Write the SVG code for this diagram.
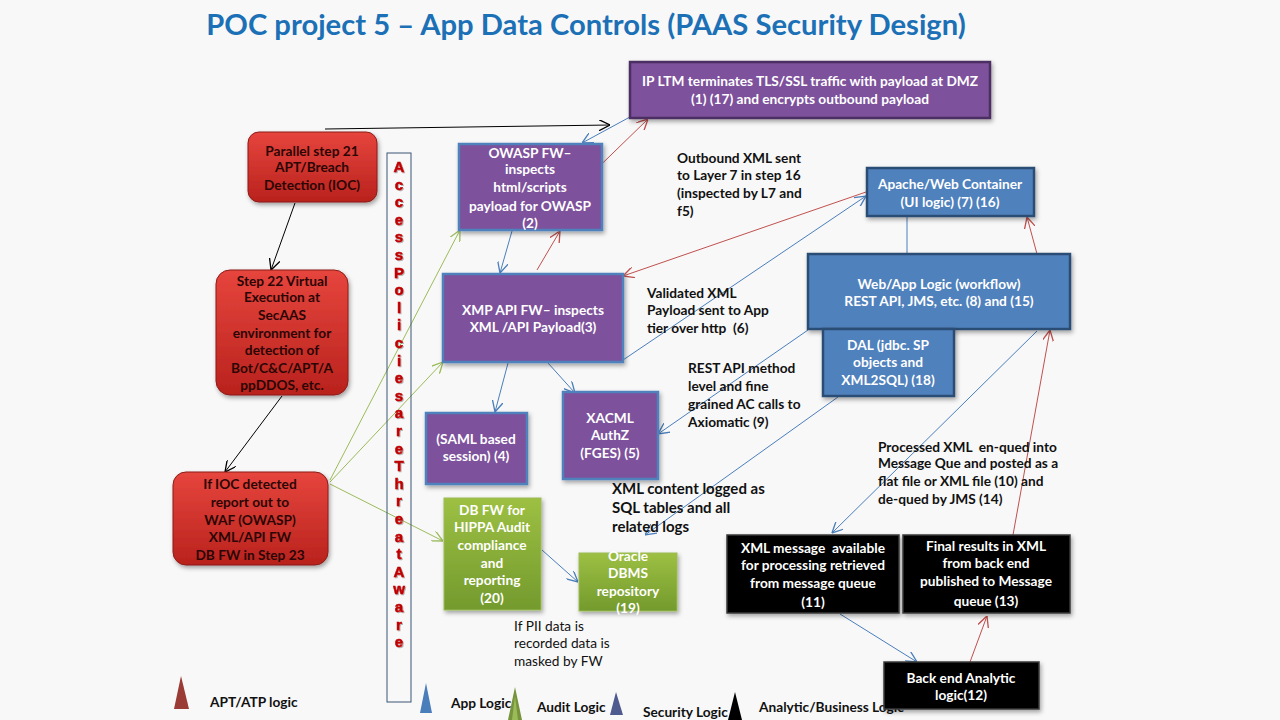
<svg xmlns="http://www.w3.org/2000/svg" width="1280" height="720" viewBox="0 0 1280 720">
<defs>
<style>
text{white-space:pre;}
.t{font-family:Lato,"Liberation Sans",sans-serif;font-weight:bold;font-size:13.7px;}
.big{font-size:15px;}
.w{fill:#ffffff;text-anchor:middle;}
.dr{fill:#2b0606;text-anchor:middle;}
.lb{fill:#111111;}
.reg{font-family:Lato,"Liberation Sans",sans-serif;font-size:13.7px;fill:#111;}
.purp{fill:#7d519c;stroke:#4f81bd;stroke-width:2.5;}
.blue{fill:#4f81bd;stroke:#2c4d75;stroke-width:2.5;}
.blk{fill:#050505;stroke:#3a3a3a;stroke-width:1.5;}
.red{fill:url(#gRed);stroke:#8c1c18;stroke-width:1;}
.grn{fill:url(#gGrn);stroke:#9bbb59;stroke-width:1;}
.vl{font-family:"Liberation Sans",Arial,sans-serif;font-weight:bold;font-size:15px;fill:#c00000;stroke:#c00000;stroke-width:0.5;text-anchor:middle;}
.cb{stroke:#4a7ebb;stroke-width:1;fill:none;marker-end:url(#aB);}
.cr{stroke:#c0504d;stroke-width:1;fill:none;marker-end:url(#aR);}
.cg{stroke:#9bbb59;stroke-width:1;fill:none;marker-end:url(#aG);}
.ck{stroke:#000;stroke-width:1;fill:none;marker-end:url(#aK);}
</style>
<linearGradient id="gRed" x1="0" y1="0" x2="0" y2="1"><stop offset="0" stop-color="#e6453d"/><stop offset="1" stop-color="#b9221d"/></linearGradient>
<linearGradient id="gGrn" x1="0" y1="0" x2="0" y2="1"><stop offset="0" stop-color="#9dc043"/><stop offset="1" stop-color="#739a2d"/></linearGradient>
<filter id="sh" x="-10%" y="-10%" width="125%" height="130%"><feDropShadow dx="1.5" dy="2.5" stdDeviation="2" flood-color="#000" flood-opacity="0.35"/></filter>
<filter id="tsh" x="-20%" y="-20%" width="150%" height="150%"><feDropShadow dx="1" dy="1" stdDeviation="0.6" flood-color="#000" flood-opacity="0.3"/></filter>
<marker id="aB" viewBox="0 0 10 10" refX="10" refY="5" markerWidth="11" markerHeight="11" markerUnits="userSpaceOnUse" orient="auto"><path d="M0,0 L10,5 L0,10" fill="none" stroke="#4a7ebb" stroke-width="1.2"/></marker>
<marker id="aR" viewBox="0 0 10 10" refX="10" refY="5" markerWidth="11" markerHeight="11" markerUnits="userSpaceOnUse" orient="auto"><path d="M0,0 L10,5 L0,10" fill="none" stroke="#c0504d" stroke-width="1.2"/></marker>
<marker id="aG" viewBox="0 0 10 10" refX="10" refY="5" markerWidth="11" markerHeight="11" markerUnits="userSpaceOnUse" orient="auto"><path d="M0,0 L10,5 L0,10" fill="none" stroke="#9bbb59" stroke-width="1.2"/></marker>
<marker id="aK" viewBox="0 0 10 10" refX="10" refY="5" markerWidth="11" markerHeight="11" markerUnits="userSpaceOnUse" orient="auto"><path d="M0,0 L10,5 L0,10" fill="none" stroke="#000" stroke-width="1.2"/></marker>
</defs>
<rect x="0" y="0" width="1280" height="720" fill="#f8f8f8"/>
<text x="586" y="35" font-family="Lato,'Liberation Sans',sans-serif" font-weight="bold" font-size="29.2" fill="#1b70b6" text-anchor="middle">POC project 5 – App Data Controls (PAAS Security Design)</text>

<g id="connectors">
<line class="ck" x1="325" y1="129" x2="610" y2="125"/>
<line class="ck" x1="295" y1="203" x2="271" y2="270"/>
<line class="ck" x1="282" y1="396" x2="225" y2="472"/>
<line class="cg" x1="330" y1="480" x2="460" y2="230"/>
<line class="cg" x1="330" y1="482" x2="443" y2="362"/>
<line class="cg" x1="330" y1="484" x2="443" y2="541"/>
<line class="cb" x1="641" y1="111" x2="582" y2="143"/>
<line class="cb" x1="512" y1="231" x2="500" y2="273"/>
<line class="cb" x1="508" y1="363" x2="495" y2="412"/>
<line class="cb" x1="548" y1="363" x2="575" y2="393"/>
<line class="cb" x1="623" y1="360" x2="866" y2="196"/>
<line class="cb" x1="808" y1="330" x2="658" y2="434"/>
<line class="cb" x1="838" y1="397" x2="645" y2="535"/>
<line class="cb" x1="1037" y1="331" x2="832" y2="533"/>
<line class="cb" x1="840" y1="614" x2="917" y2="662"/>
<line class="cb" x1="542" y1="550" x2="578" y2="582"/>
<line x1="907" y1="216" x2="907" y2="254" stroke="#4a7ebb" stroke-width="1"/>
<line class="cr" x1="578" y1="187" x2="648" y2="119"/>
<line class="cr" x1="537" y1="270" x2="560" y2="231"/>
<line class="cr" x1="866" y1="192" x2="623" y2="276"/>
<line class="cr" x1="1037" y1="254" x2="1027" y2="217"/>
<line class="cr" x1="1013" y1="535" x2="1050" y2="330"/>
<line class="cr" x1="970" y1="662" x2="987" y2="616"/>
</g>

<g id="ipltm">
<rect x="630" y="62" width="360" height="56" fill="#7d519c" stroke="#4b2e62" stroke-width="2.5" filter="url(#sh)"/>
<text class="t w" x="810" y="86">IP LTM terminates TLS/SSL traffic with payload at DMZ</text>
<text class="t w" x="810" y="104">(1) (17) and encrypts outbound payload</text>
</g>

<g id="parallel21">
<rect class="red" x="248" y="132" width="129" height="70" rx="11" filter="url(#sh)"/>
<text class="t dr" x="312" y="156">Parallel step 21</text>
<text class="t dr" x="312" y="172">APT/Breach</text>
<text class="t dr" x="312" y="190">Detection (IOC)</text>
</g>

<g id="step22">
<rect class="red" x="216" y="270" width="132" height="125" rx="14" filter="url(#sh)"/>
<text class="t dr" x="282" y="286">Step 22 Virtual</text>
<text class="t dr" x="282" y="302">Execution at</text>
<text class="t dr" x="282" y="320">SecAAS</text>
<text class="t dr" x="282" y="338">environment for</text>
<text class="t dr" x="282" y="355">detection of</text>
<text class="t dr" x="282" y="373">Bot/C&amp;C/APT/A</text>
<text class="t dr" x="282" y="390">ppDDOS, etc.</text>
</g>

<g id="ioc">
<rect class="red" x="173" y="472" width="155" height="93" rx="13" filter="url(#sh)"/>
<text class="t dr" x="250" y="489">If IOC detected</text>
<text class="t dr" x="250" y="507">report out to</text>
<text class="t dr" x="250" y="525">WAF (OWASP)</text>
<text class="t dr" x="250" y="542">XML/API FW</text>
<text class="t dr" x="250" y="560">DB FW in Step 23</text>
</g>

<g id="access-policies">
<rect x="387" y="153" width="24" height="549" fill="none" stroke="#3a5572" stroke-width="1"/>
<g filter="url(#tsh)">
<text class="vl" x="399" y="172">A</text><text class="vl" x="399" y="189.6">c</text><text class="vl" x="399" y="207.2">c</text><text class="vl" x="399" y="224.8">e</text><text class="vl" x="399" y="242.4">s</text><text class="vl" x="399" y="260">s</text><text class="vl" x="399" y="277.6">P</text><text class="vl" x="399" y="295.2">o</text><text class="vl" x="399" y="312.8">l</text><text class="vl" x="399" y="330.4">i</text><text class="vl" x="399" y="348">c</text><text class="vl" x="399" y="365.6">i</text><text class="vl" x="399" y="383.2">e</text><text class="vl" x="399" y="400.8">s</text><text class="vl" x="399" y="418.4">a</text><text class="vl" x="399" y="436">r</text><text class="vl" x="399" y="453.6">e</text><text class="vl" x="399" y="471.2">T</text><text class="vl" x="399" y="488.8">h</text><text class="vl" x="399" y="506.4">r</text><text class="vl" x="399" y="524">e</text><text class="vl" x="399" y="541.6">a</text><text class="vl" x="399" y="559.2">t</text><text class="vl" x="399" y="576.8">A</text><text class="vl" x="399" y="594.4">w</text><text class="vl" x="399" y="612">a</text><text class="vl" x="399" y="629.6">r</text><text class="vl" x="399" y="647.2">e</text>
</g>
</g>

<g id="owasp">
<rect class="purp" x="459" y="144" width="143" height="86" filter="url(#sh)"/>
<text class="t w" x="530" y="158">OWASP FW–</text>
<text class="t w" x="530" y="174">inspects</text>
<text class="t w" x="530" y="192">html/scripts</text>
<text class="t w" x="530" y="211">payload for OWASP</text>
<text class="t w" x="530" y="228">(2)</text>
</g>

<g id="xmp">
<rect class="purp" x="443" y="274" width="180" height="88" filter="url(#sh)"/>
<text class="t w" x="533" y="315">XMP API FW– inspects</text>
<text class="t w" x="533" y="332">XML /API Payload(3)</text>
</g>

<g id="saml">
<rect class="purp" x="426" y="413" width="101" height="71" filter="url(#sh)"/>
<text class="t w" x="476" y="444">(SAML based</text>
<text class="t w" x="476" y="461">session) (4)</text>
</g>

<g id="xacml">
<rect class="purp" x="563" y="392" width="95" height="87" filter="url(#sh)"/>
<text class="t w" x="610" y="423">XACML</text>
<text class="t w" x="610" y="440">AuthZ</text>
<text class="t w" x="610" y="458">(FGES) (5)</text>
</g>

<g id="dbfw">
<rect class="grn" x="444" y="498" width="97" height="112" filter="url(#sh)"/>
<text class="t w" x="492" y="515">DB FW for</text>
<text class="t w" x="492" y="532">HIPPA Audit</text>
<text class="t w" x="492" y="550">compliance</text>
<text class="t w" x="492" y="568">and</text>
<text class="t w" x="492" y="585">reporting</text>
<text class="t w" x="492" y="603">(20)</text>
</g>

<g id="oracle">
<rect class="grn" x="579" y="553" width="98" height="58" filter="url(#sh)"/>
<text class="t w" x="628" y="561">Oracle</text>
<text class="t w" x="628" y="578">DBMS</text>
<text class="t w" x="628" y="596">repository</text>
<text class="t w" x="628" y="613">(19)</text>
</g>

<g id="apache">
<rect class="blue" x="867" y="168" width="167" height="48" filter="url(#sh)"/>
<text class="t w" x="950" y="189">Apache/Web Container</text>
<text class="t w" x="950" y="207">(UI logic) (7) (16)</text>
</g>

<g id="webapp">
<rect class="blue" x="808" y="254" width="262" height="75" filter="url(#sh)"/>
<text class="t w" x="939" y="289">Web/App Logic (workflow)</text>
<text class="t w" x="939" y="306">REST API, JMS, etc. (8) and (15)</text>
</g>

<g id="dal">
<rect class="blue" x="823" y="329" width="131" height="67" filter="url(#sh)"/>
<text class="t w" x="888" y="350">DAL (jdbc. SP</text>
<text class="t w" x="888" y="367">objects and</text>
<text class="t w" x="888" y="385">XML2SQL) (18)</text>
</g>

<g id="labels">
<text class="t lb" x="677" y="163">Outbound XML sent</text>
<text class="t lb" x="677" y="180">to Layer 7 in step 16</text>
<text class="t lb" x="677" y="198">(inspected by L7 and</text>
<text class="t lb" x="677" y="216">f5)</text>
<text class="t lb" x="647" y="298">Validated XML</text>
<text class="t lb" x="647" y="315">Payload sent to App</text>
<text class="t lb" x="647" y="333">tier over http  (6)</text>
<text class="t lb" x="688" y="373">REST API method</text>
<text class="t lb" x="688" y="391">level and fine</text>
<text class="t lb" x="688" y="409">grained AC calls to</text>
<text class="t lb" x="688" y="427">Axiomatic (9)</text>
<text class="t lb big" x="612" y="494">XML content logged as</text>
<text class="t lb big" x="612" y="513">SQL tables and all</text>
<text class="t lb big" x="612" y="532">related logs</text>
<text class="t lb" x="878" y="452">Processed XML  en-qued into</text>
<text class="t lb" x="878" y="468">Message Que and posted as a</text>
<text class="t lb" x="878" y="486">flat file or XML file (10) and</text>
<text class="t lb" x="878" y="504">de-qued by JMS (14)</text>
<text class="reg" x="514" y="631">If PII data is</text>
<text class="reg" x="514" y="648">recorded data is</text>
<text class="reg" x="514" y="666">masked by FW</text>
</g>

<g id="legend">
<polygon points="181,676 174,709 189,709" fill="#9a3b36"/>
<text class="t lb" x="210" y="707">APT/ATP logic</text>
<polygon points="426,683 420,713 432,713" fill="#4a7ebb"/>
<text class="t lb" x="451" y="708">App Logic</text>
<polygon points="515,687 508,720 522,720" fill="#77933c"/>
<polygon points="515,696 512,720 518,720" fill="#9bbb59"/>
<text class="t lb" x="537" y="712">Audit Logic</text>
<polygon points="616,692 610,715 623,715" fill="#4f5b8f"/>
<text class="t lb" x="643" y="717">Security Logic</text>
<polygon points="735,692 728,720 742,720" fill="#000"/>
<text class="t lb" x="759" y="712">Analytic/Business Logic</text>
</g>

<g id="xmlmsg">
<rect class="blk" x="727" y="535" width="172" height="78" filter="url(#sh)"/>
<text class="t w" x="813" y="553">XML message  available</text>
<text class="t w" x="813" y="570">for processing retrieved</text>
<text class="t w" x="813" y="588">from message queue</text>
<text class="t w" x="813" y="607">(11)</text>
</g>

<g id="final">
<rect class="blk" x="903" y="535" width="167" height="78" filter="url(#sh)"/>
<text class="t w" x="986" y="551">Final results in XML</text>
<text class="t w" x="986" y="568">from back end</text>
<text class="t w" x="986" y="586">published to Message</text>
<text class="t w" x="986" y="606">queue (13)</text>
</g>

<g id="backend">
<rect class="blk" x="884" y="662" width="155" height="47" filter="url(#sh)"/>
<text class="t w" x="961" y="683">Back end Analytic</text>
<text class="t w" x="961" y="700">logic(12)</text>
</g>
</svg>
